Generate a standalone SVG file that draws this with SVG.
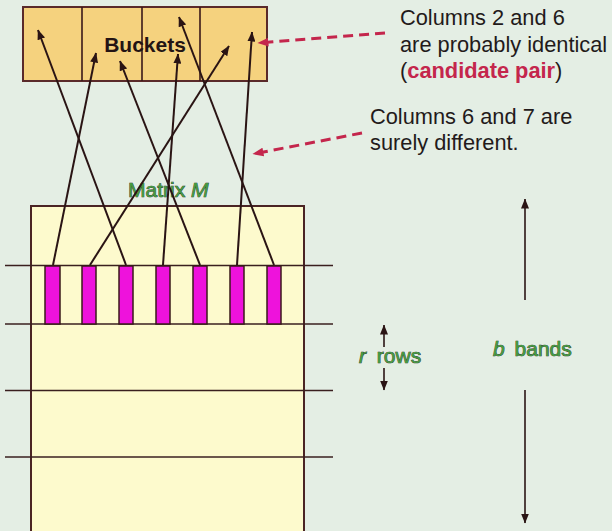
<svg xmlns="http://www.w3.org/2000/svg" width="612" height="531" viewBox="0 0 612 531">
<defs>
<marker id="ah" viewBox="0 0 10 8" refX="9.5" refY="4" markerWidth="10" markerHeight="8" markerUnits="userSpaceOnUse" orient="auto-start-reverse">
<path d="M0,0 L10,4 L0,8 Z" fill="#2a1414"/>
</marker>
<marker id="rh" viewBox="0 0 10 8" refX="9.5" refY="4" markerWidth="11" markerHeight="9" markerUnits="userSpaceOnUse" orient="auto">
<path d="M0,0 L10,4 L0,8 Z" fill="#c4264c"/>
</marker>
<linearGradient id="fadeL" x1="0" x2="1" y1="0" y2="0">
<stop offset="0" stop-color="#3a1f1f" stop-opacity="0"/>
<stop offset="0.08" stop-color="#3a1f1f" stop-opacity="1"/>
<stop offset="0.92" stop-color="#3a1f1f" stop-opacity="1"/>
<stop offset="1" stop-color="#3a1f1f" stop-opacity="0"/>
</linearGradient>
</defs>
<style>
.bg{fill:#e4eee4}
.bucket{fill:#f5d27e;stroke:#5a2a2a;stroke-width:2}
.div{stroke:#3a1818;stroke-width:1.6}
.matrix{fill:#fdfacd;stroke:#4a2424;stroke-width:2}
.band{stroke:#3a1f1f;stroke-width:1.6}
.bar{fill:#ee12dc;stroke:#3a1a1a;stroke-width:1.5}
.arr{stroke:#2a1414;stroke-width:2;fill:none;marker-end:url(#ah)}
.dbl{stroke:#2a1414;stroke-width:1.6;fill:none;marker-end:url(#ah)}
.red{stroke:#c4264c;stroke-width:3;fill:none;stroke-dasharray:10 6;marker-end:url(#rh)}
.txt{font-family:"Liberation Sans",Arial,sans-serif;fill:#231a1a;font-size:21.8px}
.grn{font-family:"Liberation Sans",Arial,sans-serif;fill:#449a40;font-size:21px;stroke:#22281a;stroke-width:0.7;paint-order:stroke}
</style>
<rect class="bg" x="0" y="0" width="612" height="531"/>

<g id="matrix">
<rect class="matrix" x="31" y="206" width="273" height="340"/>
<text class="grn" x="128" y="197">Matrix <tspan font-style="italic">M</tspan></text>
</g>

<g id="bands">
<line class="band" x1="5" y1="265.5" x2="333" y2="265.5" stroke="url(#fadeL)"/>
<line class="band" x1="5" y1="324" x2="333" y2="324" stroke="url(#fadeL)"/>
<line class="band" x1="5" y1="390.5" x2="333" y2="390.5" stroke="url(#fadeL)"/>
<line class="band" x1="5" y1="457" x2="333" y2="457" stroke="url(#fadeL)"/>
</g>

<g id="columns">
<rect class="bar" x="45" y="266" width="15" height="58"/>
<rect class="bar" x="82" y="266" width="14" height="58"/>
<rect class="bar" x="119" y="266" width="14" height="58"/>
<rect class="bar" x="156" y="266" width="14" height="58"/>
<rect class="bar" x="193" y="266" width="14" height="58"/>
<rect class="bar" x="230" y="266" width="14" height="58"/>
<rect class="bar" x="267" y="266" width="14" height="58"/>
</g>

<g id="buckets">
<rect class="bucket" x="23" y="7" width="244" height="74"/>
<line class="div" x1="82" y1="7" x2="82" y2="81"/>
<line class="div" x1="142" y1="7" x2="142" y2="81"/>
<line class="div" x1="200" y1="7" x2="200" y2="81"/>
<text x="145" y="52" text-anchor="middle" font-family="'Liberation Sans',Arial,sans-serif" font-weight="bold" font-size="21" fill="#231414">Buckets</text>
</g>

<g id="connectors">
<line class="arr" x1="53" y1="265" x2="96" y2="53"/>
<line class="arr" x1="90" y1="265" x2="229" y2="46"/>
<line class="arr" x1="126" y1="265" x2="38" y2="30"/>
<line class="arr" x1="163" y1="265" x2="178" y2="54"/>
<line class="arr" x1="200" y1="265" x2="120" y2="61"/>
<line class="arr" x1="237" y1="265" x2="252" y2="32"/>
<line class="arr" x1="274" y1="265" x2="179" y2="17"/>
<line class="red" x1="385" y1="33" x2="258" y2="43"/>
<line class="red" x1="362" y1="133" x2="253" y2="154"/>
<line class="dbl" x1="384" y1="347" x2="384" y2="325"/>
<line class="dbl" x1="384" y1="368" x2="384" y2="390"/>
<line class="dbl" x1="525" y1="300" x2="525" y2="199"/>
<line class="dbl" x1="525" y1="390" x2="525" y2="523"/>
</g>

<g id="note-identical">
<text class="txt" x="400" y="25">Columns 2 and 6</text>
<text class="txt" x="400" y="52">are probably identical</text>
<text class="txt" x="400" y="78">(<tspan font-weight="bold" fill="#c4264c">candidate pair</tspan>)</text>
</g>

<g id="note-different">
<text class="txt" x="370" y="124">Columns 6 and 7 are</text>
<text class="txt" x="370" y="150">surely different.</text>
</g>

<g id="label-rows">
<text class="grn" x="359" y="363"><tspan font-style="italic">r</tspan><tspan dx="5"> rows</tspan></text>
</g>
<g id="label-bands">
<text class="grn" x="493" y="356"><tspan font-style="italic">b</tspan><tspan dx="4"> bands</tspan></text>
</g>
</svg>
